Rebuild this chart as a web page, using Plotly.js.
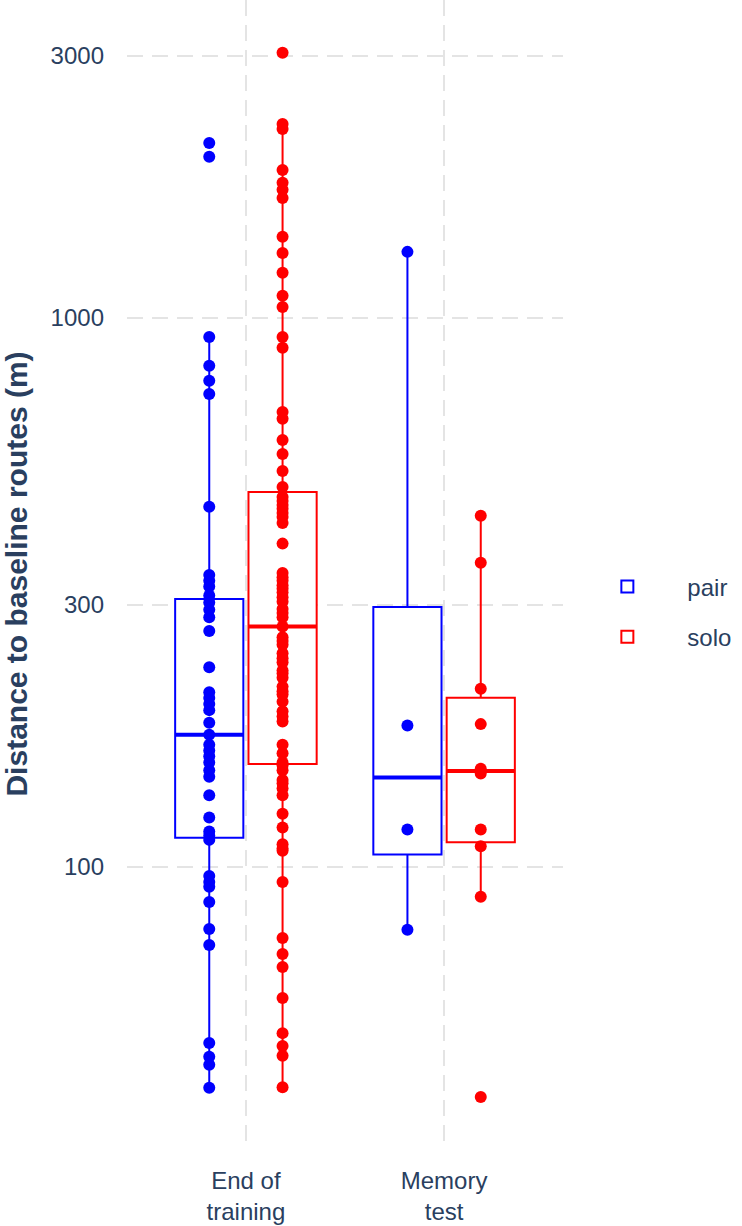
<!DOCTYPE html>
<html>
<head>
<meta charset="utf-8">
<script src="https://cdn.plot.ly/plotly-3.0.1.min.js"></script>
<style>
  html, body { margin: 0; padding: 0; background: #ffffff; }
  #chart { width: 742px; height: 1226px; }
</style>
</head>
<body>
<div id="chart"></div>
<script>
// Phases of the experiment and their axis labels
const categories = ['End of training', 'Memory test'];
const categoryLabels = ['End of<br>training', 'Memory<br>test'];

// Distance to baseline routes (m), one value per route
const pairEndOfTraining = [2083, 1965, 923, 818, 768, 727, 453, 340, 332, 324, 312, 303, 294, 285, 269,
  231, 208, 203, 198, 193, 183, 174, 167, 163, 159, 155, 150, 146, 135, 123, 116, 114, 112,
  96.3, 93.9, 92.0, 86.3, 77.1, 72.1, 47.8, 45.1, 43.6, 39.6];
const pairMemoryTest = [1319, 181, 117, 76.8];

const soloEndOfTraining = [3040, 2256, 2209, 1860, 1762, 1711, 1654, 1405, 1313, 1208, 1097, 1047, 923, 882,
  674, 655, 599, 565, 526, 492, 472, 464, 456, 449, 441, 434, 423, 388, 343, 337, 332, 326, 321, 316,
  310, 304, 295, 290, 285, 274, 262, 258, 254, 245, 240, 236, 228, 225, 221, 213, 209, 206, 200, 192,
  188, 184, 167, 161, 155, 153, 150, 144, 142, 139, 135, 125, 118, 110, 108, 107, 93.9, 74.2, 69.4,
  65.7, 57.7, 49.8, 47.2, 45.3, 39.7];
const soloMemoryTest = [436, 358, 211, 182, 151, 148, 117, 109, 88.2, 38.1];

const yTickValues = [100, 300, 1000, 3000];
const yTickLabels = ['100', '300', '1000', '3000'];

const PAIR_COLOR = '#0000ff';
const SOLO_COLOR = '#ff0000';
const TEXT_COLOR = '#2a3f5f';
const FONT = 'Liberation Sans, Arial, sans-serif';

// Quantile with linear interpolation between order statistics
function quantile(sorted, p) {
  const h = (sorted.length - 1) * p;
  const lo = Math.floor(h), hi = Math.ceil(h);
  return sorted[lo] + (h - lo) * (sorted[hi] - sorted[lo]);
}

// Box statistics on the log10 scale, returned in metres
function logStats(values) {
  const l = values.map(Math.log10).sort((a, b) => a - b);
  const q1 = quantile(l, 0.25), med = quantile(l, 0.5), q3 = quantile(l, 0.75);
  const iqr = q3 - q1;
  const inside = l.filter(v => v >= q1 - 1.5 * iqr && v <= q3 + 1.5 * iqr);
  return {
    q1: 10 ** q1, median: 10 ** med, q3: 10 ** q3,
    lowerfence: 10 ** Math.min(...inside), upperfence: 10 ** Math.max(...inside)
  };
}

function boxTrace(name, color, samples) {
  const st = samples.map(logStats);
  return {
    type: 'box', name: name, x: categories, y: samples,
    q1: st.map(s => s.q1), median: st.map(s => s.median), q3: st.map(s => s.q3),
    lowerfence: st.map(s => s.lowerfence), upperfence: st.map(s => s.upperfence),
    boxpoints: 'all', jitter: 0, pointpos: 0,
    marker: { color: color, size: 12, line: { width: 0 } },
    line: { color: color, width: 2 },
    fillcolor: '#ffffff', whiskerwidth: 0,
    offsetgroup: name, alignmentgroup: 'phase', legendgroup: name,
    hoverinfo: 'skip'
  };
}

// Heavier median bar drawn over each box
function medianTrace(name, color, samples) {
  const med = samples.map(s => logStats(s).median);
  return {
    type: 'box', name: name, x: categories,
    q1: med, median: med, q3: med, lowerfence: med, upperfence: med,
    boxpoints: false, line: { color: color, width: 4 },
    fillcolor: 'rgba(0,0,0,0)', whiskerwidth: 0,
    offsetgroup: name, alignmentgroup: 'phase', legendgroup: name,
    showlegend: false, hoverinfo: 'skip'
  };
}

const pairSamples = [pairEndOfTraining, pairMemoryTest];
const soloSamples = [soloEndOfTraining, soloMemoryTest];

const data = [
  boxTrace('pair', PAIR_COLOR, pairSamples),
  boxTrace('solo', SOLO_COLOR, soloSamples),
  medianTrace('pair', PAIR_COLOR, pairSamples),
  medianTrace('solo', SOLO_COLOR, soloSamples)
];

const gridStyle = { showgrid: true, gridcolor: '#e4e4e4', gridwidth: 2, griddash: '16px,9px', zeroline: false, showline: false };

const layout = {
  width: 742, height: 1226,
  margin: { l: 127, r: 179, t: 0, b: 78 },
  paper_bgcolor: '#ffffff', plot_bgcolor: '#ffffff',
  font: { family: FONT, color: TEXT_COLOR, size: 24 },
  boxmode: 'group', boxgap: 0.26, boxgroupgap: 0.07,
  hovermode: false,
  xaxis: Object.assign({
    type: 'category', range: [-0.6, 1.6],
    tickvals: categories, ticktext: categoryLabels,
    ticks: '', ticklabelstandoff: 16,
    tickfont: { size: 24, color: TEXT_COLOR }
  }, gridStyle),
  yaxis: Object.assign({
    type: 'log', range: [1.488, 3.579],
    tickvals: yTickValues, ticktext: yTickLabels,
    ticks: '', ticklabelstandoff: 22,
    tickfont: { size: 24, color: TEXT_COLOR },
    title: { text: 'Distance to baseline routes (m)', standoff: 16,
      font: { size: 30, weight: 'bold', color: TEXT_COLOR } }
  }, gridStyle),
  legend: {
    x: 1.01, xanchor: 'left', y: 0.467, yanchor: 'middle',
    itemwidth: 110,
    font: { size: 24, color: TEXT_COLOR },
    tracegroupgap: 16, bgcolor: 'rgba(0,0,0,0)'
  }
};

Plotly.newPlot('chart', data, layout, { staticPlot: true, displayModeBar: false });
</script>
</body>
</html>
